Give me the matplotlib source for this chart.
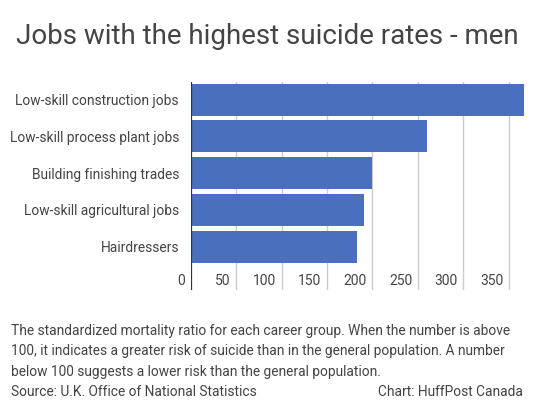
import matplotlib
matplotlib.use('Agg')
from matplotlib import pyplot as plt
from matplotlib.transforms import blended_transform_factory, offset_copy

plt.rcParams['font.family'] = ['Roboto', 'DejaVu Sans']

jobs = ['Low-skill construction jobs', 'Low-skill process plant jobs',
        'Building finishing trades', 'Low-skill agricultural jobs', 'Hairdressers']
ratios = [367, 260, 200, 191, 183]
ticks = [0, 50, 100, 150, 200, 250, 300, 350]

W, H = 546, 405
fig = plt.figure(figsize=(W / 100, H / 100), dpi=100)
# axes box in pixels: left 190.7, right 525, top 81.7, bottom 290
ax = fig.add_axes([190.7 / W, 1 - 290 / H, (525 - 190.7) / W, (290 - 81.7) / H])

txt = '#444444'
ax.barh(range(len(jobs)), ratios, height=0.87, color='#4b6fbf', zorder=2)
ax.set_xlim(0, 368)
ax.set_ylim(5.18, -0.49)
ax.set_yticks(range(len(jobs)))
ax.set_yticklabels(jobs, fontsize=9.9, color=txt)
ax.tick_params(axis='y', length=0, pad=8.5)
ax.set_xticks([])
for v in ticks[1:]:
    ax.axvline(v, color='#cccccc', lw=1, zorder=1)
ax.axvline(0, color='#333333', lw=1.6, zorder=3)
for s in ax.spines.values():
    s.set_visible(False)

tr = offset_copy(blended_transform_factory(ax.transData, ax.transAxes),
                 fig=fig, x=-4, y=0, units='points')
for v in ticks:
    ax.text(v, 0.043, str(v), transform=tr, ha='right', va='center',
            fontsize=10, color=txt)

fig.text(267 / W, 1 - 36 / H, 'Jobs with the highest suicide rates - men',
         ha='center', va='center', fontsize=20, color=txt)

notes = ['The standardized mortality ratio for each career group. When the number is above',
         '100, it indicates a greater risk of suicide than in the general population. A number',
         'below 100 suggests a lower risk than the general population.']
for i, line in enumerate(notes):
    fig.text(11 / W, 1 - (331 + 20.5 * i) / H, line, ha='left', va='center',
             fontsize=9.9, color=txt)
fig.text(11 / W, 1 - 392 / H, 'Source: U.K. Office of National Statistics',
         ha='left', va='center', fontsize=9.9, color=txt)
fig.text(523 / W, 1 - 392 / H, 'Chart: HuffPost Canada',
         ha='right', va='center', fontsize=9.9, color=txt)

fig.savefig('out.png', dpi=100, facecolor='white')
